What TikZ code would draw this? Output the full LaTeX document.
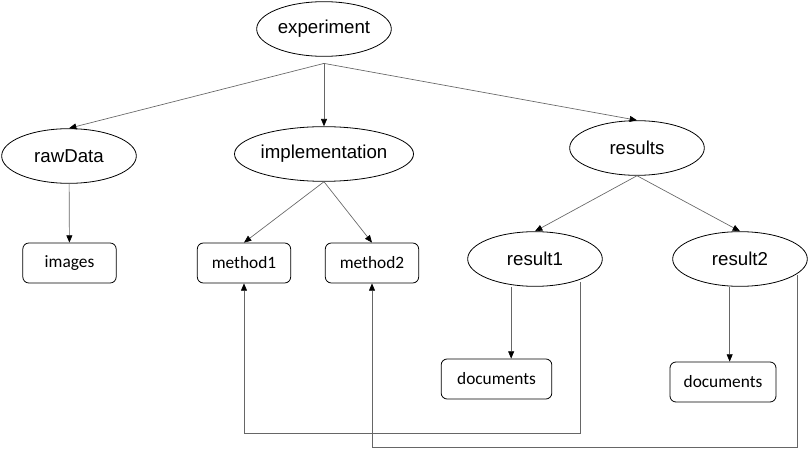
\documentclass[tikz,border=0pt]{standalone}
\usepackage{fontspec}
\setmainfont{Liberation Sans}
\newfontfamily\boxfont{Carlito}
\usetikzlibrary{shapes.geometric,arrows.meta}

\begin{document}
\begin{tikzpicture}[x=0.75pt,y=-0.75pt,
      >={Triangle[length=5.5pt,width=4.5pt,color=black]}]
      \tikzstyle{folder}=[ellipse,draw,line width=0.6pt,inner sep=0pt,
        minimum width=101pt,minimum height=41pt,font=\fontsize{14}{16}\selectfont]
      \tikzstyle{leaf}=[rectangle,draw,rounded corners=4.5pt,line width=0.6pt,
        minimum width=70pt,minimum height=30pt,font=\boxfont\fontsize{13}{15}\selectfont]
      \tikzstyle{link}=[->,draw=black!60,line width=0.5pt]
      \useasboundingbox (0,0) rectangle (808,449);
      % folders
      \node[folder] (experiment) at (324,29) {experiment};
      \node[folder] (rawData) at (69,156) {rawData};
      \node[folder] (implementation) at (324,154) {implementation};
      \node[folder] (results) at (637,148) {results};
      \node[folder] (result1) at (535,259) {result1};
      \node[folder] (result2) at (740,259) {result2};
      % files
      \node[leaf] (images) at (69.5,263) {images};
      \node[leaf] (method1) at (244,263) {method1};
      \node[leaf] (method2) at (372,263) {method2};
      \node[leaf,minimum width=83pt] (doc1) at (496.5,379) {documents};
      \node[leaf,minimum width=79.5pt] (doc2) at (723,382) {documents};
      % tree edges
      \coordinate (fork) at ([yshift=-5pt]experiment.south);
      \draw[link] (fork) -- (rawData.north);
      \draw[link] (fork) -- (implementation.north);
      \draw[link] (fork) -- (results.north);
      \draw[link] (rawData) -- (images);
      \draw[link] (implementation.south) -- (method1.north);
      \draw[link] (implementation.south) -- (method2.north);
      \draw[link] (results.south) -- (result1.north);
      \draw[link] (results.south) -- (result2.north);
      \coordinate (doc1in) at ([xshift=11pt]doc1.north);
      \coordinate (doc2in) at ([xshift=5pt]doc2.north);
      \draw[link] (result1.south -| doc1in) -- (doc1in);
      \draw[link] (result2.south -| doc2in) -- (doc2in);
      % back links
      \coordinate (r1out) at (580,282);
      \coordinate (r1low) at (580,433);
      \coordinate (r2out) at (797,275);
      \coordinate (r2low) at (797,447);
      \draw[link] (r1out) -- (r1low) -| (method1.south);
      \draw[link] (r2out) -- (r2low) -| (method2.south);
\end{tikzpicture}
\end{document}
